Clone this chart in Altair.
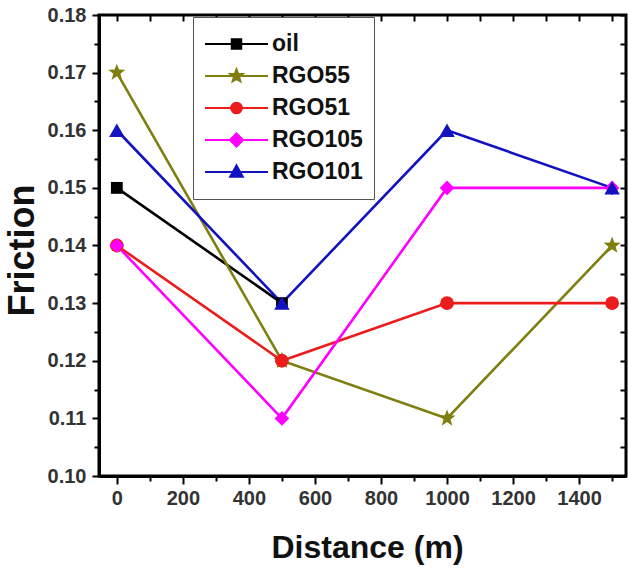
import math
import altair as alt
import pandas as pd

# ---------------- data ----------------
series = ["oil", "RGO55", "RGO51", "RGO105", "RGO101"]
distance = [0, 500, 1000, 1500]
oil = [0.15, 0.13]
rgo55 = [0.17, 0.12, 0.11, 0.14]
rgo51 = [0.14, 0.12, 0.13, 0.13]
rgo105 = [0.14, 0.11, 0.15, 0.15]
rgo101 = [0.16, 0.13, 0.16, 0.15]
values_by_series = [oil, rgo55, rgo51, rgo105, rgo101]

x_major = list(range(0, 1600, 200))
x_minor = list(range(100, 1600, 200))
x_all = list(range(0, 1600, 100))
y_major = [round(0.10 + 0.01 * i, 2) for i in range(9)]
y_minor = [round(0.105 + 0.01 * i, 3) for i in range(8)]
y_all = [round(0.10 + 0.005 * i, 3) for i in range(17)]

colors = ["#000000", "#7f7f10", "#ec1c1c", "#ff00ff", "#1212c0"]
marker_sizes = [140, 240, 140, 250, 220]


def star_path(ro, ri):
    pts = []
    for k in range(10):
        a = -math.pi / 2 + k * math.pi / 5
        r = ro if k % 2 == 0 else ri
        pts.append(f"{r*math.cos(a):.3f},{r*math.sin(a):.3f}")
    return "M" + "L".join(pts) + "Z"


shapes = ["square", star_path(1.4, 0.58), "circle", "diamond", "triangle-up"]

rows = []
for name, vals in zip(series, values_by_series):
    for d, v in zip(distance, vals):
        rows.append({"series": name, "distance": d, "friction": v})
df = pd.DataFrame(rows)

# ---------------- legend symbol paths (line + marker) ----------------
line = "M-1,0H1"
legend_paths = [
    line + "M-0.15,-0.15H0.15V0.15H-0.15Z",
    line + star_path(0.21, 0.09),
    line + "M-0.17,0A0.17,0.17,0,1,0,0.17,0A0.17,0.17,0,1,0,-0.17,0Z",
    line + "M0,-0.21L0.21,0L0,0.21L-0.21,0Z",
    line + "M0,-0.21L0.2,0.15L-0.2,0.15Z",
]

FONT = "Liberation Sans"

xscale = alt.Scale(domain=[-54, 1542], nice=False, zero=False)
yscale = alt.Scale(domain=[0.10, 0.18], nice=False, zero=False)
cscale = alt.Scale(domain=series, range=colors)

x_bottom = alt.X(
    "distance:Q", scale=xscale, title="Distance (m)",
    axis=alt.Axis(
        orient="bottom", values=x_major, format="d", tickSize=8,
        tickWidth=2, tickColor="#000", domainColor="#000", domainWidth=3,
        labelFont=FONT, labelFontSize=20, labelFontWeight="bold", labelColor="#333",
        labelPadding=4, grid=False,
        titleFont=FONT, titleFontSize=32, titleFontWeight="bold", titleColor="#111",
        titleX=268, titleY=81, titleAnchor="middle", titleAlign="center", titleBaseline="alphabetic",
    ),
)
y_left = alt.Y(
    "friction:Q", scale=yscale, title="Friction",
    axis=alt.Axis(
        orient="left", values=y_major, format=".2f", tickSize=7,
        tickWidth=2, tickColor="#000", domainColor="#000", domainWidth=3,
        labelFont=FONT, labelFontSize=20, labelFontWeight="bold", labelColor="#333",
        labelPadding=6, grid=False,
        titleFont=FONT, titleFontSize=36, titleFontWeight="bold", titleColor="#111",
        titleX=-77, titleY=235, titleAngle=270, titleAlign="center", titleBaseline="middle",
    ),
)
x_bottom_minor = alt.X(
    "distance:Q", scale=xscale, title=None,
    axis=alt.Axis(orient="bottom", values=x_minor, labels=False, domain=False, grid=False,
                  tickSize=5, tickWidth=2, tickColor="#000"),
)
y_left_minor = alt.Y(
    "friction:Q", scale=yscale, title=None,
    axis=alt.Axis(orient="left", values=y_minor, labels=False, domain=False, grid=False,
                  tickSize=5, tickWidth=2, tickColor="#000"),
)
x_top = alt.X(
    "distance:Q", scale=xscale, title=None,
    axis=alt.Axis(orient="top", values=x_all, labels=False, domain=False, grid=False,
                  tickSize=6, tickWidth=2, tickColor="#000", offset=-6),
)
y_right = alt.Y(
    "friction:Q", scale=yscale, title=None,
    axis=alt.Axis(orient="right", values=y_all, labels=False, domain=False, grid=False,
                  tickSize=6, tickWidth=2, tickColor="#000", offset=-6),
)

lines = alt.Chart(df).mark_line(strokeWidth=2.6).encode(
    x=x_bottom, y=y_left,
    color=alt.Color("series:N", scale=cscale, legend=None),
    detail="series:N",
)

minor_layer = alt.Chart(df).mark_point(opacity=0).encode(
    x=x_bottom_minor, y=y_left_minor,
)

points = alt.Chart(df).mark_point(filled=True, opacity=1).encode(
    x=x_top, y=y_right,
    color=alt.Color("series:N", scale=cscale, legend=None),
    shape=alt.Shape("series:N", scale=alt.Scale(domain=series, range=shapes), legend=None),
    size=alt.Size("series:N", scale=alt.Scale(domain=series, range=marker_sizes), legend=None),
)

leg = alt.Legend(
    title=None, orient="none", legendX=94, legendY=2,
    symbolSize=3969, symbolStrokeWidth=2, symbolOpacity=1, clipHeight=32, rowPadding=0,
    labelFont=FONT, labelFontSize=23, labelFontWeight="bold", labelColor="#111",
    labelOffset=3, padding=11, strokeColor="#555", fillColor="white",
)
legend_layer = alt.Chart(df).mark_point(filled=True, opacity=1).encode(
    fill=alt.Fill("series:N", scale=cscale, legend=leg),
    stroke=alt.Stroke("series:N", scale=cscale, legend=leg),
    shape=alt.Shape("series:N", scale=alt.Scale(domain=series, range=legend_paths), legend=leg),
).transform_filter("false")

chart = alt.layer(lines, minor_layer, points, legend_layer).resolve_scale(
    color="independent", shape="independent", fill="independent", stroke="independent",
    size="independent",
).resolve_axis(
    x="independent", y="independent"
).properties(
    width=527, height=461,
    padding={"left": 99, "top": 15, "right": 2, "bottom": 93},
    autosize=alt.AutoSizeParams(type="none"),
    background="white",
).configure_view(stroke="#000", strokeWidth=3)

chart.save("out.html", embed_options={"renderer": "svg", "actions": False})
